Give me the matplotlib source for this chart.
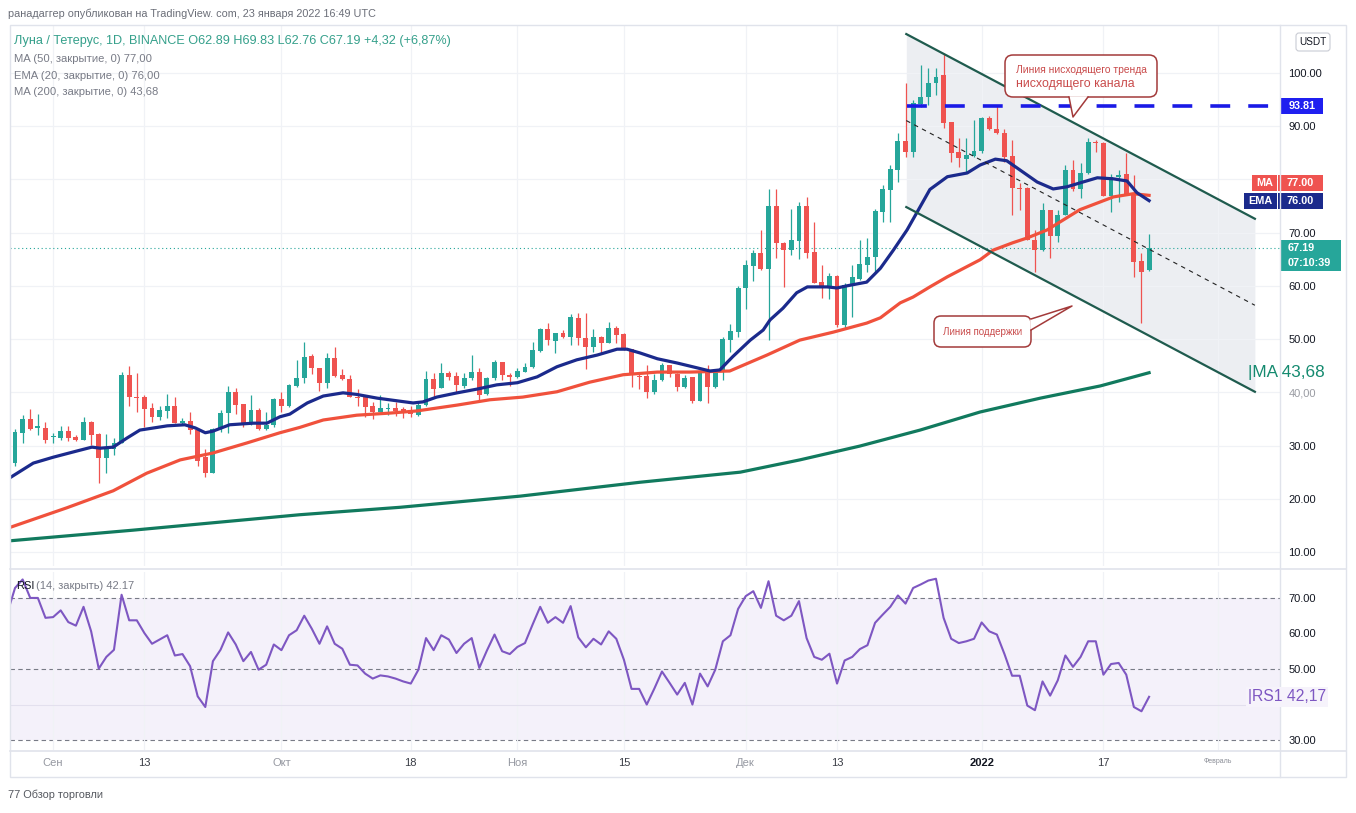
"""LUNA/USDT daily candles with channel, moving averages and RSI (TradingView style)."""

import matplotlib

matplotlib.use("Agg")
import matplotlib.dates as mdates
import matplotlib.pyplot as plt
import pandas as pd
from matplotlib.patches import FancyBboxPatch, Polygon, Rectangle

plt.rcParams["font.family"] = ["Liberation Sans", "DejaVu Sans"]

FIRST_DAY = "2021-08-26"

# daily candles, 26 Aug 2021 .. 23 Jan 2022
opens = [
    29.8, 26.7, 32.4, 35.0, 33.3, 33.3, 31.6, 31.4, 32.7, 31.6,
    31.0, 34.4, 32.2, 27.7, 29.4, 30.5, 43.3, 39.1, 39.1, 37.1,
    35.4, 36.5, 37.4, 34.2, 34.6, 32.9, 27.8, 24.8, 33.1, 36.1,
    40.1, 37.8, 34.2, 36.7, 33.1, 33.9, 38.8, 37.4, 41.2, 42.7,
    46.8, 44.6, 41.8, 46.5, 43.3, 42.5, 39.1, 39.1, 37.4, 36.3,
    36.9, 37.1, 36.9, 36.5, 35.7, 37.6, 42.5, 40.8, 43.6, 43.1,
    41.2, 42.7, 43.8, 39.7, 42.7, 45.7, 43.3, 42.9, 43.8, 44.8,
    47.8, 51.9, 49.6, 51.1, 50.4, 54.0, 50.2, 48.5, 50.4, 49.3,
    52.1, 51.0, 48.1, 43.1, 43.1, 40.1, 42.3, 45.1, 43.4, 41.0,
    42.9, 38.4, 43.6, 41.0, 43.8, 49.8, 51.3, 59.6, 63.7, 66.2,
    63.2, 75.0, 68.1, 66.7, 68.4, 75.0, 66.4, 60.7, 59.8, 61.9,
    52.7, 60.0, 61.3, 63.9, 65.4, 73.9, 78.0, 81.8, 87.2, 85.2,
    94.2, 95.5, 98.1, 99.6, 90.8, 85.2, 83.8, 84.4, 85.3, 91.5,
    89.5, 88.7, 84.4, 78.4, 78.4, 68.6, 66.7, 74.3, 69.4, 73.3,
    81.8, 78.2, 81.2, 87.0, 86.8, 76.9, 80.5, 81.0, 77.1, 64.7,
    62.89,
]
highs = [
    29.8, 33.2, 35.7, 36.9, 35.9, 34.4, 32.4, 33.7, 33.7, 32.0,
    35.4, 34.6, 32.4, 32.2, 31.4, 43.8, 44.9, 43.6, 39.5, 38.0,
    37.4, 39.7, 39.1, 35.2, 36.3, 32.9, 29.4, 33.3, 36.7, 41.2,
    40.8, 37.8, 39.5, 37.1, 36.3, 38.9, 40.1, 41.6, 46.1, 49.5,
    47.2, 44.6, 47.4, 48.5, 44.4, 43.3, 40.6, 39.5, 38.2, 39.5,
    38.0, 38.2, 37.2, 37.4, 38.2, 44.0, 43.6, 45.5, 44.0, 43.8,
    43.6, 47.0, 44.6, 42.9, 46.1, 45.7, 43.6, 44.6, 45.5, 49.5,
    52.1, 53.0, 51.1, 51.7, 54.7, 54.9, 54.9, 51.9, 50.6, 53.2,
    52.5, 51.1, 48.1, 43.8, 45.1, 43.4, 45.5, 45.1, 43.6, 43.3,
    42.9, 43.6, 45.1, 44.4, 50.4, 52.8, 60.0, 64.9, 66.7, 70.5,
    78.2, 78.2, 68.2, 74.4, 75.8, 76.7, 72.0, 63.9, 62.4, 62.0,
    60.5, 63.9, 68.6, 69.0, 74.4, 79.0, 82.7, 88.7, 98.1, 94.9,
    101.5, 100.9, 100.9, 103.6, 90.8, 87.8, 87.8, 91.2, 91.7, 91.9,
    93.8, 89.5, 87.4, 79.3, 78.6, 70.5, 75.6, 74.3, 74.3, 82.7,
    83.7, 83.1, 87.8, 87.4, 87.0, 81.0, 81.8, 85.0, 80.8, 66.2,
    69.83,
]
lows = [
    26.8, 26.2, 30.5, 32.9, 32.0, 30.5, 30.5, 31.0, 30.9, 30.9,
    31.0, 30.1, 23.0, 24.8, 28.2, 30.4, 37.4, 36.3, 33.5, 34.4,
    34.8, 35.2, 34.2, 33.9, 32.2, 26.2, 24.1, 24.8, 32.5, 32.4,
    35.9, 33.5, 33.9, 32.9, 32.9, 33.5, 36.3, 37.2, 41.0, 41.8,
    43.4, 40.2, 40.8, 42.9, 42.3, 39.1, 37.4, 35.4, 35.0, 36.3,
    35.7, 35.6, 35.2, 35.4, 35.6, 37.4, 39.1, 40.8, 42.3, 40.1,
    40.8, 42.3, 38.6, 39.5, 42.3, 42.3, 41.2, 42.7, 43.8, 44.6,
    47.6, 48.9, 47.4, 50.2, 48.9, 48.9, 44.4, 47.6, 47.4, 49.3,
    49.3, 48.0, 41.0, 40.6, 38.9, 39.7, 42.1, 42.9, 40.2, 40.8,
    38.0, 38.4, 38.0, 40.8, 42.3, 47.6, 50.4, 55.7, 60.9, 63.0,
    49.8, 65.2, 59.8, 65.8, 65.0, 65.2, 60.5, 57.7, 57.5, 52.3,
    52.1, 54.2, 61.1, 62.6, 62.6, 72.0, 72.0, 79.5, 84.2, 84.2,
    93.6, 94.0, 95.9, 89.7, 83.3, 82.3, 81.2, 84.2, 85.0, 89.3,
    88.5, 83.3, 73.3, 74.3, 68.6, 62.6, 66.5, 65.2, 68.2, 73.3,
    77.8, 76.5, 81.0, 85.2, 76.9, 73.9, 75.8, 77.1, 61.7, 53.0,
    62.76,
]
closes = [
    27.0, 32.5, 34.9, 33.1, 33.6, 31.0, 31.8, 32.7, 31.4, 31.0,
    34.4, 32.0, 27.7, 29.5, 30.5, 43.3, 39.1, 38.9, 36.9, 35.4,
    36.7, 37.4, 34.2, 34.6, 32.9, 27.1, 24.8, 33.1, 36.1, 40.1,
    37.6, 34.2, 36.7, 33.1, 33.9, 38.8, 37.4, 41.4, 42.7, 46.6,
    44.6, 41.8, 46.5, 43.1, 42.5, 39.1, 39.0, 37.2, 36.3, 37.1,
    37.1, 36.5, 36.3, 35.9, 37.6, 42.5, 40.6, 43.6, 42.9, 41.4,
    42.7, 43.8, 39.5, 42.7, 45.7, 43.3, 42.9, 44.0, 44.8, 48.0,
    51.9, 49.8, 51.1, 50.4, 54.2, 50.2, 48.5, 50.4, 49.3, 52.1,
    50.8, 48.0, 43.3, 42.9, 40.1, 42.3, 45.1, 43.4, 41.0, 42.7,
    38.4, 43.6, 41.0, 43.8, 50.0, 51.5, 59.6, 63.9, 66.2, 63.2,
    75.0, 68.1, 66.7, 68.6, 75.0, 66.2, 60.5, 59.8, 61.9, 52.7,
    60.2, 61.7, 64.1, 65.4, 74.1, 78.2, 82.0, 87.2, 85.2, 94.4,
    95.5, 98.1, 99.2, 90.6, 85.0, 84.0, 84.6, 85.3, 91.5, 89.5,
    88.7, 84.2, 78.4, 78.2, 68.6, 66.7, 74.3, 69.4, 73.3, 81.8,
    78.2, 81.2, 87.0, 86.8, 76.9, 80.5, 80.8, 77.1, 64.5, 62.6,
    67.19,
]

# RSI(14), one value per candle
rsi_values = [
    65.8, 72.8, 75.2, 70.0, 70.0, 64.4, 64.6, 66.5, 63.2, 62.2,
    67.5, 60.6, 50.1, 53.4, 55.4, 70.9, 63.7, 63.7, 60.1, 57.1,
    58.3, 59.5, 53.8, 54.2, 50.8, 42.3, 39.3, 52.2, 55.4, 60.3,
    56.9, 52.2, 54.8, 49.8, 51.2, 56.9, 55.3, 59.5, 60.9, 65.0,
    61.3, 57.1, 62.0, 57.1, 55.7, 51.2, 51.0, 48.7, 47.3, 48.2,
    47.9, 47.3, 46.5, 45.9, 49.8, 58.7, 55.3, 59.5, 58.3, 54.5,
    57.1, 58.7, 50.3, 55.2, 59.7, 55.0, 54.2, 56.2, 57.3, 62.5,
    67.5, 63.0, 64.6, 63.0, 67.7, 58.9, 56.1, 58.5, 56.9, 60.6,
    58.5, 52.6, 44.4, 44.4, 40.0, 44.5, 49.3, 46.1, 42.8, 46.1,
    40.0, 48.7, 45.1, 49.8, 57.8, 59.5, 66.9, 70.5, 71.9, 67.2,
    74.7, 65.0, 63.7, 65.0, 69.1, 58.7, 53.4, 52.6, 54.3, 45.9,
    52.4, 53.4, 55.6, 56.7, 63.0, 65.3, 67.5, 70.7, 68.4, 72.8,
    73.8, 74.9, 75.4, 64.4, 58.5, 57.3, 57.8, 58.5, 63.1, 60.6,
    59.7, 54.2, 48.1, 48.1, 39.7, 38.4, 46.5, 42.5, 46.8, 53.8,
    50.6, 53.4, 57.8, 57.8, 48.4, 51.4, 51.7, 48.4, 39.3, 38.1,
    42.17,
]

# moving averages, position in days after FIRST_DAY
ema20_days = [
    0.5, 3.4, 6.0, 9.2, 11.1, 12.2, 13.9, 15.7, 17.4, 21.0, 23.3, 24.7,
    26.0, 27.0, 29.2, 32.3, 34.1, 35.8, 37.1, 38.4, 39.4, 41.5, 44.1,
    45.9, 48.6, 51.2, 53.3, 54.6, 56.4, 59.1, 61.7, 64.3, 67.0, 69.6,
    72.2, 74.8, 77.5, 80.1, 81.4, 83.1, 85.4, 88.0, 90.6, 92.3, 93.6,
    95.3, 97.6, 99.3, 100.2, 101.9, 103.7, 105.1, 107.7, 109.0, 110.3,
    112.9, 114.7, 116.4, 118.2, 119.9, 121.2, 123.5, 126.1, 127.8,
    129.8, 131.3, 133.0, 135.3, 137.4, 139.2, 141.3, 143.2, 145.3,
    147.1, 148.4, 150.0,
]
ema20_values = [
    24.1, 26.7, 27.8, 29.0, 29.7, 29.5, 29.7, 31.4, 32.9, 33.7, 33.9, 33.3,
    32.4, 32.7, 33.9, 34.2, 34.2, 35.4, 35.9, 37.1, 38.0, 39.3, 39.9,
    39.6, 38.9, 38.4, 38.0, 38.2, 39.1, 39.9, 40.6, 41.4, 41.8, 42.9,
    44.8, 46.1, 47.0, 48.1, 48.1, 47.4, 46.3, 45.5, 44.6, 44.0, 44.2,
    46.7, 49.8, 51.7, 53.6, 55.8, 58.7, 59.8, 59.8, 59.6, 60.0,
    60.7, 63.3, 66.7, 70.5, 74.8, 78.1, 80.5, 81.2, 82.7,
    83.8, 83.5, 81.8, 79.5, 78.2, 78.6, 79.5, 80.3, 80.1,
    79.7, 77.5, 76.0,
]
ma50_days = [
    0.5, 7.8, 13.9, 18.3, 22.7, 27.0, 31.5, 35.8, 38.4, 41.5, 45.9, 50.3,
    53.8, 59.1, 63.4, 67.7, 72.2, 76.5, 80.9, 85.4, 89.7, 94.9, 99.8,
    104.1, 108.5, 112.9, 114.7, 117.3, 119.0, 121.2, 123.5, 127.8,
    129.5, 132.1, 134.0, 136.6, 140.9, 145.3, 147.9, 150.0,
]
ma50_values = [
    14.7, 18.3, 21.5, 24.8, 27.3, 28.6, 30.5, 32.4, 33.4, 34.8, 35.7, 36.1,
    36.5, 37.6, 38.6, 39.1, 40.1, 41.9, 43.3, 43.8, 43.8, 44.0, 47.0,
    49.8, 51.3, 53.0, 54.0, 56.8, 57.9, 59.8, 61.7, 64.9,
    66.7, 68.1, 69.0, 70.5, 74.3, 76.7, 77.3, 77.0,
]
ma200_days = [0.3, 16.5, 38.4, 51.6, 67.4, 83.1, 96.3, 104.1, 112.0, 119.9, 127.8, 135.7, 143.6, 150.0]
ma200_values = [12.1, 14.1, 17.0, 18.4, 20.5, 23.1, 25.0, 27.3, 29.9, 32.9, 36.3, 38.9, 41.2, 43.68]

# drawn channel and levels
channel_days = [118.1, 163.9]
channel_upper = [107.3, 72.6]
channel_lower = [74.8, 40.1]
resistance_level = 93.81
resistance_from_day = 118.2
last_close = 67.19

price_ticks = [10, 20, 30, 40, 50, 60, 70, 80, 90, 100]
price_tick_labels = ["10.00", "20.00", "30.00", "40,00", "50.00", "60.00", "70.00", "", "90.00", "100.00"]
rsi_ticks = [30, 50, 60, 70]
date_ticks = ["2021-09-01", "2021-09-13", "2021-10-01", "2021-10-18", "2021-11-01",
              "2021-11-15", "2021-12-01", "2021-12-13", "2022-01-01", "2022-01-17", "2022-02-01"]
date_labels = ["Сен", "13", "Окт", "18", "Ноя", "15", "Дек", "13", "2022", "17", "Февраль"]

UP = "#26a69a"
DOWN = "#ef5350"
EMA_COLOR = "#1b2a8c"
MA50_COLOR = "#f0513c"
MA200_COLOR = "#117a5e"
CHANNEL_COLOR = "#1f5b4e"
RSI_COLOR = "#7e57c2"
GRID = "#f0f2f6"
NOTE_RED = "#c94b4b"
NOTE_EDGE = "#a33a3a"

W, H = 1356, 813


def frac(x0, y0, x1, y1):
    return [x0 / W, 1 - y1 / H, (x1 - x0) / W, (y1 - y0) / H]


fig = plt.figure(figsize=(W / 100, H / 100), dpi=100)
fig.patch.set_facecolor("white")
ax = fig.add_axes(frac(10, 25, 1280, 566))
rsi_ax = fig.add_axes(frac(10, 572, 1280, 750), sharex=ax)
deco = fig.add_axes([0, 0, 1, 1], zorder=5)
deco.set_xlim(0, W)
deco.set_ylim(H, 0)
deco.axis("off")
deco.patch.set_alpha(0)

dates = pd.date_range(FIRST_DAY, periods=len(closes), freq="D")
xs = mdates.date2num(dates)
x0 = xs[0]

# candles
colors = [UP if c >= o else DOWN for o, c in zip(opens, closes)]
ax.vlines(xs, lows, highs, colors=colors, lw=0.9, zorder=3)
bottoms = [min(o, c) for o, c in zip(opens, closes)]
heights = [max(abs(c - o), 0.2) for o, c in zip(opens, closes)]
ax.bar(xs, heights, bottom=bottoms, width=0.64, color=colors, lw=0, zorder=4)

# moving averages
ax.plot([x0 + d for d in ma200_days], ma200_values, color=MA200_COLOR, lw=2.3, zorder=5)
ax.plot([x0 + d for d in ma50_days], ma50_values, color=MA50_COLOR, lw=2.3, zorder=5)
ax.plot([x0 + d for d in ema20_days], ema20_values, color=EMA_COLOR, lw=2.3, zorder=5)

# descending channel
ch_x = [x0 + d for d in channel_days]
ch_mid = [(u + l) / 2 for u, l in zip(channel_upper, channel_lower)]
ax.fill_between(ch_x, channel_lower, channel_upper, color="#eceef2", lw=0, zorder=1)
ax.plot(ch_x, channel_upper, color=CHANNEL_COLOR, lw=1.6, zorder=6)
ax.plot(ch_x, channel_lower, color=CHANNEL_COLOR, lw=1.6, zorder=6)
ax.plot(ch_x, ch_mid, color="#222222", lw=0.8, dashes=(4, 4), zorder=6)

xmin, xmax = x0 + 0.34, x0 + 167.2
ax.plot([x0 + resistance_from_day, xmax], [resistance_level] * 2, color="#1a1ae6",
        lw=2.6, dashes=(5.5, 5), zorder=6)
ax.axhline(last_close, color=UP, lw=0.8, ls=(0, (1, 2.5)), zorder=2)

ax.set_xlim(xmin, xmax)
ax.set_ylim(7.37, 109.0)
ax.set_yticks(price_ticks)
ax.set_yticklabels(price_tick_labels)
ax.yaxis.tick_right()
ax.tick_params(axis="y", length=0, pad=6, labelsize=8, labelcolor="#131722")
ax.tick_params(axis="x", length=0, labelbottom=False)
ax.set_xticks(mdates.date2num(pd.to_datetime(date_ticks)))
ax.grid(color=GRID, lw=0.9, zorder=0)
for side in ax.spines.values():
    side.set_visible(False)
for lab in ax.get_yticklabels():
    if lab.get_text() == "40,00":
        lab.set_color("#9a9ca3")

# RSI panel
rsi_ax.axhspan(30, 70, color=RSI_COLOR, alpha=0.08, lw=0, zorder=0)
for level in (30, 50, 70):
    rsi_ax.axhline(level, color="#787b86", lw=0.8, dashes=(4, 3), zorder=1)
rsi_ax.plot(xs, rsi_values, color=RSI_COLOR, lw=1.5, zorder=3)
rsi_ax.set_ylim(27.2, 77.3)
rsi_ax.set_yticks(rsi_ticks)
rsi_ax.set_yticklabels([f"{v:.2f}" for v in rsi_ticks])
rsi_ax.yaxis.tick_right()
rsi_ax.tick_params(axis="y", length=0, pad=6, labelsize=8, labelcolor="#131722")
rsi_ax.set_yticks([40, 60], minor=True)
rsi_ax.grid(which="minor", axis="y", color="#e3e0ee", lw=0.8)
rsi_ax.grid(which="major", axis="x", color=GRID, lw=0.9)
rsi_ax.set_xticks(mdates.date2num(pd.to_datetime(date_ticks)))
rsi_ax.set_xticklabels(date_labels)
rsi_ax.tick_params(axis="x", length=0, pad=6, labelsize=8)
rsi_ax.tick_params(axis="y", which="minor", length=0)
for lab in rsi_ax.get_xticklabels():
    text = lab.get_text()
    if text == "2022":
        lab.set_color("#131722")
        lab.set_fontweight("bold")
    elif text == "Февраль":
        lab.set_color("#8a8d96")
        lab.set_fontsize(5)
    elif text.isdigit():
        lab.set_color("#3a3d46")
    else:
        lab.set_color("#9598a1")
for side in rsi_ax.spines.values():
    side.set_visible(False)


def ypx(axis, value):
    return H - axis.transData.transform((xmin, value))[1]


# frame and separators
frame = "#e0e3eb"
deco.add_patch(Rectangle((9.5, 25.5), 1336, 751, fill=False, ec=frame, lw=1))
deco.plot([9.5, 1345.5], [569, 569], color=frame, lw=1.2)
deco.plot([9.5, 1345.5], [751, 751], color=frame, lw=1.2)
deco.plot([1280, 1280], [25.5, 776.5], color=frame, lw=1)

# header texts
deco.text(8, 14, "ранадаггер опубликован на TradingView. com, 23 января 2022 16:49 UTC",
          fontsize=7.8, color="#6b6e78", va="center")
deco.text(14, 41, "Луна / Тетерус, 1D, BINANCE O62.89 H69.83 L62.76 C67.19 +4,32 (+6,87%)",
          fontsize=9.1, color="#35a08b", va="center")
for y, text in ((59, "MA (50, закрытие, 0) 77,00"),
                (76, "EMA (20, закрытие, 0) 76,00"),
                (92, "MA (200, закрытие, 0) 43,68")):
    deco.text(14, y, text, fontsize=8.1, color="#787b86", va="center")
deco.text(16, 586, "RSI", fontsize=8, color="#131722", va="center")
deco.text(36, 586, "(14, закрыть) 42.17", fontsize=8, color="#787b86", va="center")
deco.text(8, 795, "77 Обзор торговли", fontsize=7.9, color="#55585f", va="center")

# price scale badges
deco.add_patch(FancyBboxPatch((1296, 33), 34, 18, boxstyle="round,pad=0,rounding_size=3",
                              fc="white", ec="#c9ccd4", lw=0.8))
deco.text(1313, 42, "USDT", fontsize=7.2, color="#131722", ha="center", va="center")

y_res = ypx(ax, resistance_level)
deco.add_patch(Rectangle((1281, y_res - 8), 42, 16, fc="#1f1ff0", lw=0))
deco.text(1302, y_res, "93.81", fontsize=7.8, color="white", weight="bold", ha="center", va="center")

y_ma = ypx(ax, ma50_values[-1]) - 12
deco.add_patch(Rectangle((1252, y_ma - 8), 25, 16, fc=DOWN, lw=0))
deco.add_patch(Rectangle((1278, y_ma - 8), 45, 16, fc=DOWN, lw=0))
deco.text(1264.5, y_ma, "MA", fontsize=7.8, color="white", weight="bold", ha="center", va="center")
deco.text(1300.5, y_ma, "77.00", fontsize=7.8, color="white", weight="bold", ha="center", va="center")

y_ema = ypx(ax, ema20_values[-1])
deco.add_patch(Rectangle((1244, y_ema - 8), 33, 16, fc=EMA_COLOR, lw=0))
deco.add_patch(Rectangle((1278, y_ema - 8), 45, 16, fc=EMA_COLOR, lw=0))
deco.text(1260.5, y_ema, "EMA", fontsize=7.8, color="white", weight="bold", ha="center", va="center")
deco.text(1300.5, y_ema, "76.00", fontsize=7.8, color="white", weight="bold", ha="center", va="center")

y_last = ypx(ax, last_close)
deco.add_patch(Rectangle((1281, y_last - 8), 60, 31, fc=UP, lw=0))
deco.text(1288, y_last, "67.19", fontsize=7.8, color="white", weight="bold", va="center")
deco.text(1288, y_last + 15, "07:10:39", fontsize=7.8, color="white", weight="bold", va="center")

deco.text(1248, ypx(ax, ma200_values[-1]), "|MA 43,68", fontsize=12.3, color="#148a6f", va="center")
deco.text(1248, ypx(rsi_ax, rsi_values[-1]), "|RS1 42,17", fontsize=11.3, color=RSI_COLOR,
          va="center", bbox=dict(boxstyle="square,pad=0.15", fc="#f6f3fb", ec="none"))

# callouts
deco.add_patch(FancyBboxPatch((1005, 55), 152, 42, boxstyle="round,pad=0,rounding_size=8",
                              fc="white", ec=NOTE_EDGE, lw=1.1))
deco.add_patch(Polygon([(1069, 96.2), (1073, 117), (1088, 96.2)], closed=True, fc="white", ec="none"))
deco.plot([1069, 1073, 1088], [97, 117, 97], color=NOTE_EDGE, lw=1.1)
deco.text(1016, 70, "Линия нисходящего тренда", fontsize=7.4, color=NOTE_RED, va="center")
deco.text(1016, 84, "нисходящего канала", fontsize=8.9, color=NOTE_RED, va="center")

deco.add_patch(FancyBboxPatch((934, 316), 97, 31, boxstyle="round,pad=0,rounding_size=7",
                              fc="white", ec=NOTE_EDGE, lw=1.1))
deco.add_patch(Polygon([(1030.2, 319), (1072, 306), (1030.2, 330)], closed=True, fc="white", ec="none"))
deco.plot([1031, 1072, 1031], [319, 306, 330], color=NOTE_EDGE, lw=1.1)
deco.text(982.5, 332, "Линия поддержки", fontsize=7, color=NOTE_RED, ha="center", va="center")

fig.savefig("out.png", dpi=100)
